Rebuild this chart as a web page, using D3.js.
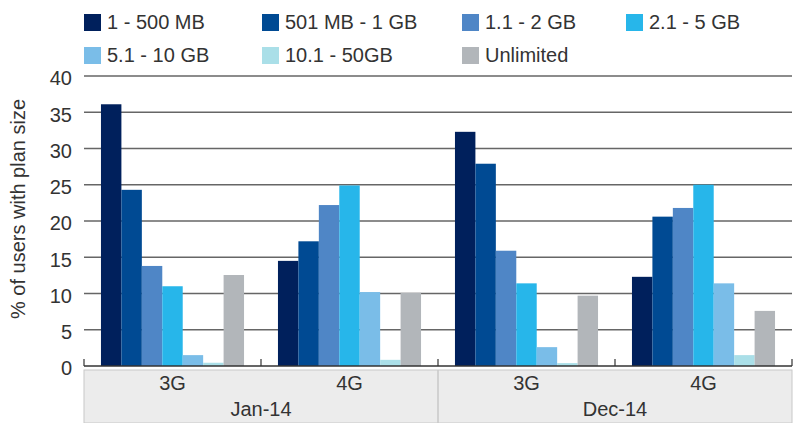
<!DOCTYPE html>
<html>
<head>
<meta charset="utf-8">
<script src="https://d3js.org/d3.v7.min.js"></script>
<style>
	body {
		margin: 0;
		padding: 0;
		background: #fff;
	}
	text {
		font-family: "Liberation Sans", Arial, sans-serif;
		fill: #333;
	}
</style>
</head>
<body>
<div id="content"></div>
<script>

// Data
var periods = ['Jan-14', 'Dec-14'];
var networks = ['3G', '4G'];
var series = ['1 - 500 MB', '501 MB - 1 GB', '1.1 - 2 GB', '2.1 - 5 GB', '5.1 - 10 GB', '10.1 - 50GB', 'Unlimited'];
var colors = ['#00205c', '#004a93', '#4f86c6', '#27b6ea', '#7abde8', '#aadfe8', '#b2b6ba'];
// one array per plan size: Jan-14 3G, Jan-14 4G, Dec-14 3G, Dec-14 4G
var s1 = [36.1, 14.5, 32.3, 12.3];
var s2 = [24.3, 17.2, 27.9, 20.6];
var s3 = [13.8, 22.2, 15.9, 21.8];
var s4 = [11.0, 24.9, 11.4, 25.0];
var s5 = [1.5, 10.2, 2.6, 11.4];
var s6 = [0.45, 0.85, 0.4, 1.5];
var s7 = [12.55, 10.1, 9.7, 7.6];
var values = [s1, s2, s3, s4, s5, s6, s7];
var yTicks = [0, 5, 10, 15, 20, 25, 30, 35, 40];

var w = 795, h = 423;
var plotLeft = 84, plotRight = 792, plotTop = 76, plotBottom = 366;

var svg = d3.select('#content')
	.append('svg')
	.attr('width', w)
	.attr('height', h);

// group keys
var groups = [];
periods.forEach(function(p) {
	networks.forEach(function(n) { groups.push(p + '|' + n); });
});

var x0 = d3.scaleBand()
	.domain(groups)
	.range([plotLeft, plotRight]);

var x1 = d3.scaleBand()
	.domain(series)
	.range([0, x0.bandwidth()])
	.paddingOuter(0.83);

var y = d3.scaleLinear()
	.domain([0, 40])
	.range([plotBottom, plotTop]);

// Category band at the bottom
var bandTop = 370;
svg.append('rect')
	.attr('x', plotLeft)
	.attr('y', bandTop)
	.attr('width', plotRight - plotLeft)
	.attr('height', h - bandTop)
	.attr('fill', '#ececec')
	.attr('stroke', '#c8c8c8')
	.attr('stroke-width', 1);

svg.append('line')
	.attr('x1', x0(groups[2]))
	.attr('x2', x0(groups[2]))
	.attr('y1', bandTop)
	.attr('y2', h)
	.attr('stroke', '#c8c8c8')
	.attr('stroke-width', 1.5);

// Gridlines
svg.selectAll('.grid')
	.data(yTicks.slice(1))
	.enter().append('line')
	.attr('class', 'grid')
	.attr('x1', plotLeft)
	.attr('x2', plotRight)
	.attr('y1', function(d) { return y(d); })
	.attr('y2', function(d) { return y(d); })
	.attr('stroke', '#666')
	.attr('stroke-width', 1.5);

// Y tick labels
svg.selectAll('.ylab')
	.data(yTicks)
	.enter().append('text')
	.attr('class', 'ylab')
	.attr('x', 72)
	.attr('y', function(d) { return y(d) + 4; })
	.attr('text-anchor', 'end')
	.attr('dominant-baseline', 'middle')
	.style('font-size', '20px')
	.text(function(d) { return d; });

// Y axis title
svg.append('text')
	.attr('transform', 'translate(20,' + ((plotTop + plotBottom) / 2 - 12) + ') rotate(-90)')
	.attr('text-anchor', 'middle')
	.attr('dominant-baseline', 'middle')
	.style('font-size', '20px')
	.text('% of users with plan size');

// Bars
series.forEach(function(s, i) {
	svg.selectAll('.bar' + i)
		.data(values[i])
		.enter().append('rect')
		.attr('class', 'bar' + i)
		.attr('x', function(d, j) { return x0(groups[j]) + x1(s); })
		.attr('width', x1.bandwidth())
		.attr('y', function(d) { return y(d); })
		.attr('height', function(d) { return y(0) - y(d); })
		.attr('fill', colors[i]);
});

// X axis line and small category ticks
svg.append('line')
	.attr('x1', plotLeft)
	.attr('x2', plotRight)
	.attr('y1', plotBottom)
	.attr('y2', plotBottom)
	.attr('stroke', '#333')
	.attr('stroke-width', 1.5);

var tickXs = groups.map(function(g) { return x0(g); }).concat([plotRight]);
svg.selectAll('.xtick')
	.data(tickXs)
	.enter().append('line')
	.attr('class', 'xtick')
	.attr('x1', function(d) { return d; })
	.attr('x2', function(d) { return d; })
	.attr('y1', plotBottom - 7)
	.attr('y2', plotBottom)
	.attr('stroke', '#333')
	.attr('stroke-width', 1.2);

// Network labels
svg.selectAll('.netlab')
	.data(groups)
	.enter().append('text')
	.attr('class', 'netlab')
	.attr('x', function(d) { return x0(d) + x0.bandwidth() / 2; })
	.attr('y', 385)
	.attr('text-anchor', 'middle')
	.attr('dominant-baseline', 'middle')
	.style('font-size', '20px')
	.text(function(d) { return d.split('|')[1]; });

// Period labels
svg.selectAll('.perlab')
	.data(periods)
	.enter().append('text')
	.attr('class', 'perlab')
	.attr('x', function(d) { return x0(d + '|3G') + x0.bandwidth(); })
	.attr('y', 411)
	.attr('text-anchor', 'middle')
	.attr('dominant-baseline', 'middle')
	.style('font-size', '20px')
	.text(function(d) { return d; });

// Legend
var legendCols = [84, 262, 462, 626];
var legend = svg.selectAll('.leg')
	.data(series)
	.enter().append('g')
	.attr('class', 'leg')
	.attr('transform', function(d, i) {
		return 'translate(' + legendCols[i % 4] + ',' + (i < 4 ? 14 : 47) + ')';
	});

legend.append('rect')
	.attr('width', 17)
	.attr('height', 17)
	.attr('fill', function(d, i) { return colors[i]; });

legend.append('text')
	.attr('x', 23)
	.attr('y', 9.5)
	.attr('dominant-baseline', 'middle')
	.style('font-size', '20px')
	.text(function(d) { return d; });

</script>
</body>
</html>
